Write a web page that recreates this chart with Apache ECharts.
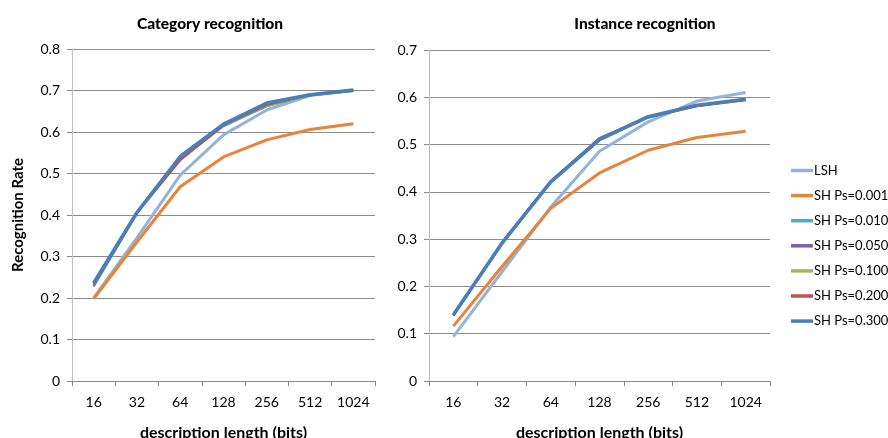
<!DOCTYPE html>
<html>
<head>
<meta charset="utf-8">
<script src="https://cdn.jsdelivr.net/npm/echarts@6/dist/echarts.min.js"></script>
<style>
  html, body { margin: 0; padding: 0; background: #fff; }
  #root { width: 888px; height: 438px; }
</style>
</head>
<body>
<div id="root"></div>
<script>
// x categories (bits)
const bits = ['16', '32', '64', '128', '256', '512', '1024']
const seriesNames = ['LSH', 'SH Ps=0.001', 'SH Ps=0.010', 'SH Ps=0.050', 'SH Ps=0.100', 'SH Ps=0.200', 'SH Ps=0.300']
const colors = ['#95B3D7', '#E8833A', '#4BACC6', '#7E5FA3', '#9BBB59', '#C0504D', '#4A7EBB']
const widths = [3, 3, 2.2, 2.2, 2.2, 2.2, 3.5]

// Category recognition
const catLSH   = [0.200, 0.345, 0.496, 0.593, 0.653, 0.688, 0.700]
const cat001   = [0.198, 0.335, 0.468, 0.540, 0.581, 0.606, 0.620]
const cat010   = [0.227, 0.404, 0.535, 0.614, 0.662, 0.688, 0.699]
const cat050   = [0.232, 0.405, 0.537, 0.617, 0.664, 0.689, 0.700]
const cat100   = [0.238, 0.406, 0.536, 0.616, 0.663, 0.689, 0.699]
const cat200   = [0.231, 0.405, 0.532, 0.616, 0.665, 0.690, 0.700]
const cat300   = [0.236, 0.406, 0.541, 0.619, 0.670, 0.690, 0.701]

// Instance recognition
const instLSH  = [0.094, 0.231, 0.368, 0.486, 0.548, 0.592, 0.610]
const inst001  = [0.116, 0.242, 0.365, 0.440, 0.488, 0.515, 0.528]
const inst010  = [0.138, 0.290, 0.420, 0.509, 0.557, 0.582, 0.595]
const inst050  = [0.139, 0.291, 0.421, 0.511, 0.558, 0.582, 0.596]
const inst100  = [0.140, 0.290, 0.422, 0.510, 0.558, 0.583, 0.595]
const inst200  = [0.139, 0.292, 0.423, 0.514, 0.558, 0.581, 0.594]
const inst300  = [0.140, 0.292, 0.421, 0.511, 0.559, 0.583, 0.596]

const catData = [catLSH, cat001, cat010, cat050, cat100, cat200, cat300]
const instData = [instLSH, inst001, inst010, inst050, inst100, inst200, inst300]

const font = 'Lato, "Open Sans", sans-serif'
const chart = echarts.init(document.getElementById('root'))

function xAxis (idx) {
  return {
    type: 'category',
    gridIndex: idx,
    data: bits,
    boundaryGap: true,
    name: 'description length (bits)',
    nameLocation: 'middle',
    nameGap: 44,
    nameTextStyle: { fontFamily: font, fontWeight: 'bold', fontSize: 16, color: '#000' },
    axisLine: { lineStyle: { color: '#868686', width: 1 } },
    axisTick: { show: true, length: 5, lineStyle: { color: '#868686' } },
    axisLabel: { margin: 14, fontFamily: font, fontSize: 14, color: '#000' }
  }
}

function yAxis (idx, max, name) {
  return {
    type: 'value',
    gridIndex: idx,
    min: 0,
    max: max,
    interval: 0.1,
    name: name,
    nameLocation: 'middle',
    nameGap: 46,
    nameTextStyle: { fontFamily: font, fontWeight: 'bold', fontSize: 15, color: '#000' },
    axisLine: { show: true, lineStyle: { color: '#BFBFBF', width: 1 } },
    axisTick: { show: true, length: 5, lineStyle: { color: '#868686' } },
    axisLabel: { margin: 12, fontFamily: font, fontSize: 14, color: '#000',
      formatter: v => String(Math.round(v * 10) / 10) },
    splitLine: { show: true, lineStyle: { color: '#8C8C8C', width: 1 } }
  }
}

const series = []
seriesNames.forEach((n, i) => {
  series.push({
    name: n, type: 'line', xAxisIndex: 0, yAxisIndex: 0,
    data: catData[i], symbol: 'none', color: colors[i],
    lineStyle: { width: widths[i], color: colors[i] }, z: 2 + i
  })
  series.push({
    name: n, type: 'line', xAxisIndex: 1, yAxisIndex: 1,
    data: instData[i], symbol: 'none', color: colors[i],
    lineStyle: { width: widths[i], color: colors[i] }, z: 2 + i
  })
})

const option = {
  animation: false,
  backgroundColor: '#fff',
  title: [
    { text: 'Category recognition', left: 205, top: 11, textAlign: 'center',
      textStyle: { fontFamily: font, fontWeight: 900, fontSize: 15.5, color: '#000' } },
    { text: 'Instance recognition', left: 640, top: 11, textAlign: 'center',
      textStyle: { fontFamily: font, fontWeight: 900, fontSize: 15.5, color: '#000' } }
  ],
  legend: {
    data: seriesNames,
    orient: 'vertical',
    left: 786,
    top: 159,
    icon: 'rect',
    itemWidth: 22,
    itemHeight: 3.5,
    itemGap: 12.1,
    textStyle: { fontFamily: font, fontSize: 13, color: '#000', padding: [0, 0, 0, -4] }
  },
  grid: [
    { left: 72, right: 513, top: 49, bottom: 57, outerBoundsMode: 'none' },
    { left: 429, right: 118, top: 50, bottom: 57, outerBoundsMode: 'none' }
  ],
  xAxis: [xAxis(0), xAxis(1)],
  yAxis: [yAxis(0, 0.8, 'Recognition Rate'), yAxis(1, 0.7, '')],
  series: series
}
chart.setOption(option)
</script>
</body>
</html>
